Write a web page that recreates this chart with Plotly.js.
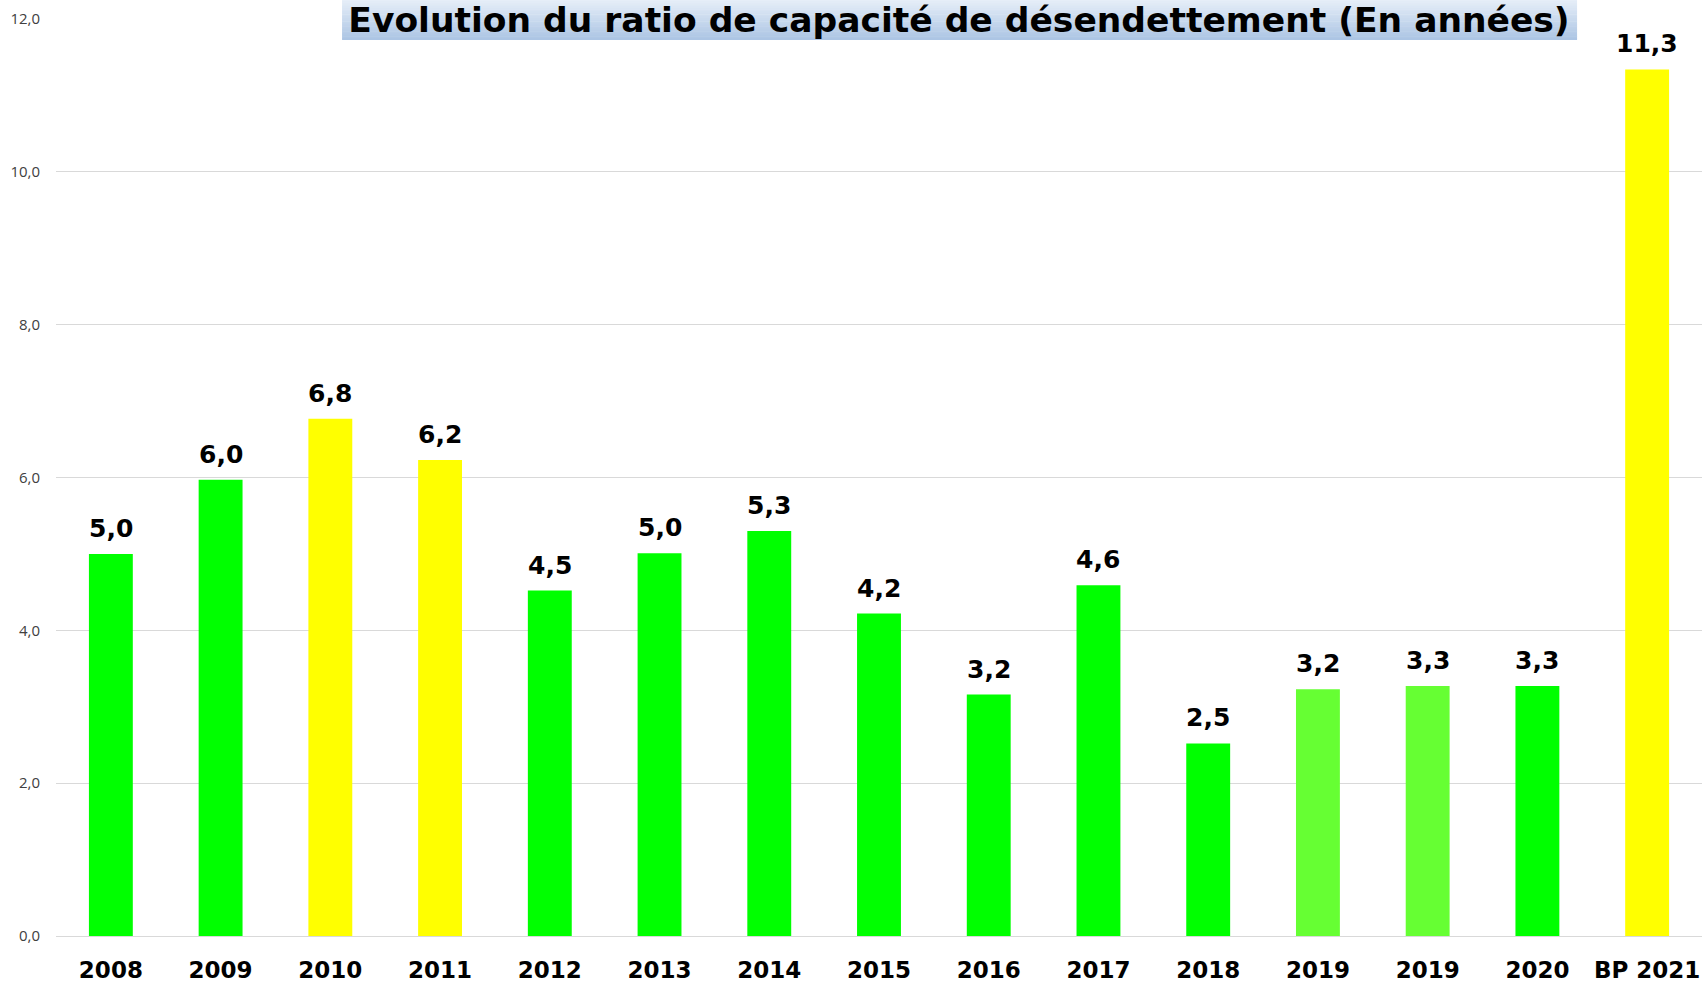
<!DOCTYPE html>
<html>
<head>
<meta charset="utf-8">
<script src="https://cdn.plot.ly/plotly-3.0.1.min.js"></script>
<style>html,body{margin:0;padding:0;background:#fff;}#chart{width:1702px;height:982px;}</style>
</head>
<body>
<div id="chart"></div>
<script>
const categories = ["2008","2009","2010","2011","2012","2013","2014","2015","2016","2017","2018","2019","2019","2020","BP 2021"];
const ratioValues = [5.0, 5.97, 6.77, 6.23, 4.52, 5.01, 5.30, 4.22, 3.16, 4.59, 2.52, 3.23, 3.27, 3.27, 11.34];
const barColors = ["#00ff00","#00ff00","#ffff00","#ffff00","#00ff00","#00ff00","#00ff00","#00ff00","#00ff00","#00ff00","#00ff00","#66ff33","#66ff33","#00ff00","#ffff00"];
const yTickValues = [0, 2, 4, 6, 8, 10, 12];
const titleText = "Evolution du ratio de capacité de désendettement (En années)";

const xIdx = categories.map((c, i) => i);

const trace = {
  type: "bar",
  x: xIdx,
  y: ratioValues,
  marker: {color: barColors, line: {width: 0}},
  hoverinfo: "skip"
};

const annotations = xIdx.map((i) => ({
  x: i, y: ratioValues[i], xref: "x", yref: "y",
  text: ratioValues[i].toFixed(1).replace(".", ","),
  showarrow: false, yanchor: "bottom", yshift: 9,
  font: {family: "DejaVu Sans", size: 25, color: "#000000", weight: "bold"}
}));

// title background gradient (stacked thin rectangles)
const shapes = [];
const nSteps = 24;
const boxTop = 1.0215, boxBottom = 0.9775;
const c0 = [230, 238, 248], c1 = [172, 197, 228];
for (let k = 0; k < nSteps; k++) {
  const t = k / (nSteps - 1);
  const col = c0.map((v, j) => Math.round(v + (c1[j] - v) * t));
  const y1 = boxTop - (boxTop - boxBottom) * k / nSteps;
  const y0 = boxTop - (boxTop - boxBottom) * (k + 1) / nSteps;
  shapes.push({
    type: "rect", xref: "paper", yref: "paper",
    x0: 0.1738, x1: 0.9241, y0: y0 - 0.0005, y1: y1,
    fillcolor: "rgb(" + col.join(",") + ")", line: {width: 0}, layer: "above"
  });
}

const layout = {
  width: 1702, height: 982,
  margin: {l: 56, r: 0, t: 19, b: 46},
  paper_bgcolor: "#ffffff", plot_bgcolor: "#ffffff",
  separators: ", ",
  showlegend: false,
  bargap: 0.6,
  title: {
    text: "<b>" + titleText + "</b>",
    x: (959 - 56) / 1646, xanchor: "center", xref: "paper",
    y: 1 - 19.5 / 982, yanchor: "middle", yref: "container",
    font: {family: "DejaVu Sans", size: 34.5, color: "#000000"}
  },
  xaxis: {
    tickmode: "array", tickvals: xIdx, ticktext: categories,
    range: [-0.5, categories.length - 0.5],
    showgrid: false, zeroline: false, showline: false, ticks: "",
    ticklabelstandoff: 18,
    tickfont: {family: "DejaVu Sans", size: 23, color: "#000000", weight: "bold"},
    fixedrange: true
  },
  yaxis: {
    range: [0, 12], tickmode: "array", tickvals: yTickValues,
    tickformat: ".1f",
    showgrid: true, gridcolor: "#d9d9d9", gridwidth: 1,
    zeroline: true, zerolinecolor: "#d9d9d9", zerolinewidth: 1,
    showline: false, ticks: "",
    ticklabelstandoff: 15,
    tickfont: {family: "Open Sans", size: 15, color: "#404040"},
    fixedrange: true
  },
  annotations: annotations,
  shapes: shapes
};

Plotly.newPlot("chart", [trace], layout, {displayModeBar: false, staticPlot: true});
</script>
</body>
</html>
